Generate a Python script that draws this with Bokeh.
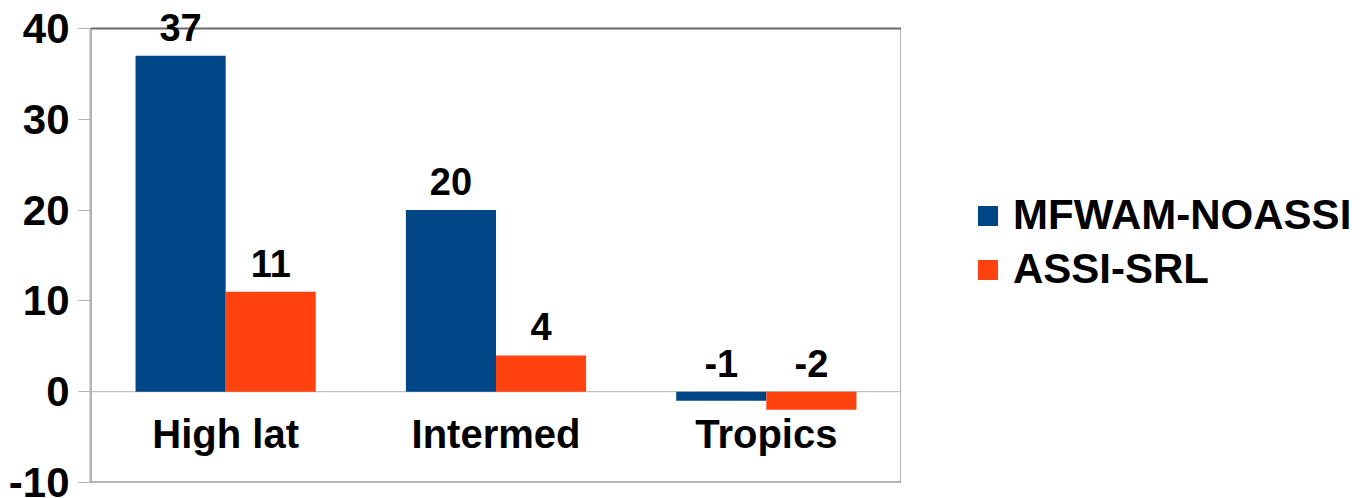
from bokeh.plotting import figure
from bokeh.layouts import row
from bokeh.models import (ColumnDataSource, FactorRange, Range1d, Span, Legend,
                          LegendItem, FixedTicker, LabelSet, BoxAnnotation)
from bokeh.transform import dodge
from bokeh.core.properties import value
from bokeh.embed import file_html
from bokeh.resources import INLINE

# Data
regions = ["High lat", "Intermed", "Tropics"]
mfwam_noassi = [37, 20, -1]
assi_srl = [11, 4, -2]
series_names = ["MFWAM-NOASSI", "ASSI-SRL"]
y_ticks = [-10, 0, 10, 20, 30, 40]
y_min, y_max = -10, 40

FONT = "Liberation Sans"
BLUE = "#004586"
ORANGE = "#ff420e"
LIGHT = "#b3b3b3"
DARK = "#6a6a6a"

# Geometry of the chart area (pixels)
W_MAIN, W_LEGEND, H = 901, 464, 498
TOP, BOTTOM, LEFT = 10, 16, 90
WALL_H = 454  # height of the boxed value range y_min..y_max
frame_h = H - TOP - BOTTOM
y_end = y_min + (y_max - y_min) * frame_h / WALL_H  # headroom above the box for labels

src = ColumnDataSource(dict(
    region=regions,
    a=mfwam_noassi,
    b=assi_srl,
    a_lbl=[str(v) for v in mfwam_noassi],
    b_lbl=[str(v) for v in assi_srl],
    # labels sit above the bar top, or above the zero line for negative bars
    a_anchor=[max(v, 0) for v in mfwam_noassi],
    b_anchor=[max(v, 0) for v in assi_srl],
    zero=[0] * len(regions),
))

x_range = FactorRange(factors=regions, range_padding=0)
y_range = Range1d(y_min, y_end)

p = figure(
    x_range=x_range, y_range=y_range,
    width=W_MAIN, height=H,
    x_axis_location=None,
    output_backend="svg", toolbar_location=None,
    min_border_left=LEFT, min_border_right=0,
    min_border_top=TOP, min_border_bottom=BOTTOM,
)
p.background_fill_color = "white"
p.border_fill_color = "white"
p.outline_line_color = None
p.grid.visible = False

# Boxed chart wall from y_min to y_max
p.add_layout(BoxAnnotation(bottom=y_min, top=y_max, fill_alpha=0,
                           line_color=DARK, line_alpha=1, line_width=2,
                           line_dash="solid", level="underlay"))

# Zero line
p.add_layout(Span(location=0, dimension="width", line_color=LIGHT,
                  line_width=1, level="underlay"))


def add_bars(fig, **kw):
    ra = fig.vbar(x=dodge("region", -1 / 6, range=x_range), top="a", bottom=0,
                  width=1 / 3, source=src, fill_color=BLUE, line_color=None, **kw)
    rb = fig.vbar(x=dodge("region", 1 / 6, range=x_range), top="b", bottom=0,
                  width=1 / 3, source=src, fill_color=ORANGE, line_color=None, **kw)
    return ra, rb


r_a, r_b = add_bars(p)

# Value labels
for col, off in (("a", -1 / 6), ("b", 1 / 6)):
    p.add_layout(LabelSet(
        x=dodge("region", off, range=x_range), y=f"{col}_anchor",
        text=f"{col}_lbl", source=src, y_offset=15,
        text_align="center", text_baseline="alphabetic",
        text_font=value(FONT), text_font_style="bold",
        text_font_size="38px", text_color="black",
    ))

# Category labels inside the box, below the zero line
p.add_layout(LabelSet(
    x="region", y="zero", text="region", source=src, y_offset=-56,
    text_align="center", text_baseline="alphabetic",
    text_font=value(FONT), text_font_style="bold",
    text_font_size="40px", text_color="black",
))

# Y axis
ax = p.yaxis[0]
ax.ticker = FixedTicker(ticks=y_ticks)
ax.bounds = (y_min, y_max)
ax.major_label_overrides = {t: str(t) for t in y_ticks}
ax.major_tick_out = 12
ax.major_tick_in = 0
ax.minor_tick_out = 0
ax.minor_tick_in = 0
ax.axis_line_color = LIGHT
ax.axis_line_width = 2
ax.major_tick_line_color = LIGHT
ax.major_label_standoff = 9
ax.major_label_text_font = FONT
ax.major_label_text_font_style = "bold"
ax.major_label_text_font_size = "42px"
ax.major_label_text_color = "black"

# Legend panel to the right; its key renderers are hidden copies of the bars
pl = figure(
    x_range=x_range, y_range=y_range,
    width=W_LEGEND, height=H,
    x_axis_location=None, y_axis_location=None,
    output_backend="svg", toolbar_location=None,
    min_border=0,
)
pl.outline_line_color = None
pl.grid.visible = False
pl.border_fill_color = "white"
pl.background_fill_color = "white"
key_a, key_b = add_bars(pl, visible=False)

legend = Legend(
    items=[LegendItem(label=series_names[0], renderers=[key_a]),
           LegendItem(label=series_names[1], renderers=[key_b])],
    location=(74, 189), orientation="vertical",
    padding=0, margin=0, spacing=6,
    glyph_width=25, glyph_height=25, label_standoff=13,
    label_text_font=FONT, label_text_font_style="bold",
    label_text_font_size="42px", label_text_color="black",
    border_line_alpha=0, background_fill_alpha=0,
    inactive_fill_alpha=0, click_policy="none",
)
pl.add_layout(legend, "center")

open("out.html", "w").write(file_html(row(p, pl), INLINE))
